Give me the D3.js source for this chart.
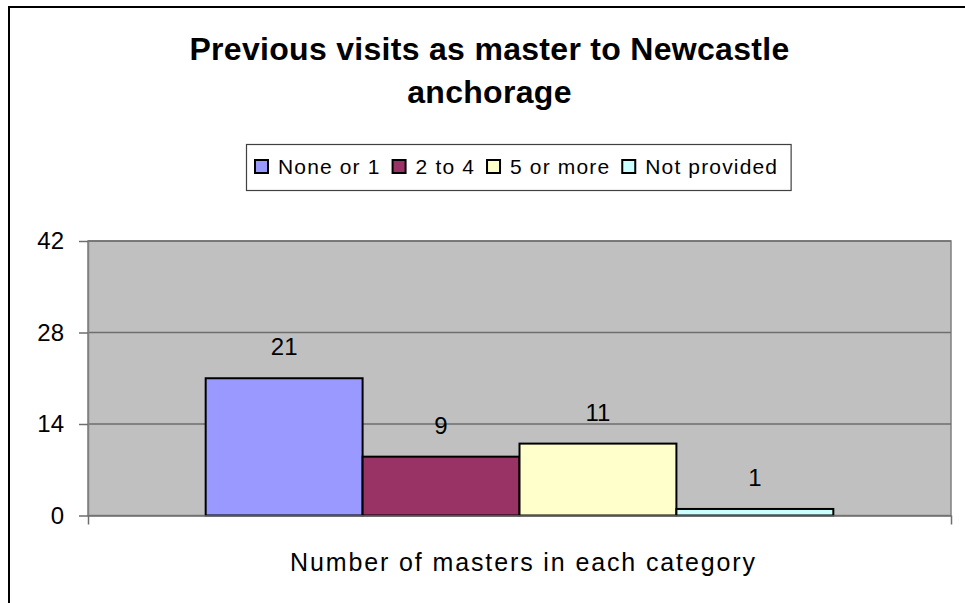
<!DOCTYPE html>
<html>
<head>
<meta charset="utf-8">
<script src="https://cdn.jsdelivr.net/npm/d3@7"></script>
<style>
  body { margin: 0; background: #fff; }
  svg { display: block; font-family: "Liberation Sans", Arial, sans-serif; }
  .tick text { font-size: 24px; fill: #000; }
</style>
</head>
<body>
<div id="chart"></div>
<script>
const categories = ["None or 1", "2 to 4", "5 or more", "Not provided"];
const counts = [21, 9, 11, 1];
const colors = ["#9999ff", "#993366", "#ffffcc", "#ccffff"];
const yTicks = [0, 14, 28, 42];
const titleLines = ["Previous visits as master to Newcastle", "anchorage"];
const xTitle = "Number of masters in each category";

const width = 965, height = 603;
const plot = { left: 88, right: 951, top: 241, bottom: 515.5 };

const svg = d3.select("#chart")
    .append("svg")
    .attr("width", width)
    .attr("height", height);

// chart frame (cut off at right and bottom like the picture)
svg.append("rect")
    .attr("x", 9).attr("y", 7)
    .attr("width", 980).attr("height", 620)
    .attr("fill", "#fff")
    .attr("stroke", "#000")
    .attr("stroke-width", 2);

// title
svg.append("text")
    .attr("text-anchor", "middle")
    .attr("font-size", 32)
    .attr("font-weight", "bold")
    .attr("letter-spacing", 0.3)
    .selectAll("tspan")
    .data(titleLines)
    .join("tspan")
    .attr("x", 489.5)
    .attr("y", (d, i) => 60 + i * 43)
    .text(d => d);

const y = d3.scaleLinear()
    .domain([0, 42])
    .range([plot.bottom, plot.top]);

const x = d3.scaleBand()
    .domain(categories)
    .range([plot.left, plot.right])
    .paddingInner(0)
    .paddingOuter(0.75);

// plot area
svg.append("rect")
    .attr("x", plot.left).attr("y", plot.top)
    .attr("width", plot.right - plot.left)
    .attr("height", plot.bottom - plot.top)
    .attr("fill", "#c0c0c0")
    .attr("stroke", "#808080")
    .attr("stroke-width", 1.5);

// gridlines
svg.append("g")
    .selectAll("line")
    .data(yTicks.filter(d => d > 0))
    .join("line")
    .attr("x1", plot.left).attr("x2", plot.right)
    .attr("y1", d => y(d)).attr("y2", d => y(d))
    .attr("stroke", "#6e6e6e")
    .attr("stroke-width", 1.5);

// bars
svg.append("g")
    .selectAll("rect")
    .data(counts)
    .join("rect")
    .attr("x", (d, i) => x(categories[i]))
    .attr("y", d => y(d))
    .attr("width", x.bandwidth())
    .attr("height", d => y(0) - y(d))
    .attr("fill", (d, i) => colors[i])
    .attr("stroke", "#000")
    .attr("stroke-width", 2);

// value labels
svg.append("g")
    .selectAll("text")
    .data(counts)
    .join("text")
    .attr("x", (d, i) => x(categories[i]) + x.bandwidth() / 2)
    .attr("y", d => y(d) - 23)
    .attr("text-anchor", "middle")
    .attr("font-size", 24)
    .text(d => d);

// y axis
const leftAxis = d3.axisLeft(y)
    .tickValues(yTicks)
    .tickSize(9)
    .tickSizeOuter(0)
    .tickPadding(15);
const gy = svg.append("g")
    .attr("transform", `translate(${plot.left}, 0)`)
    .call(leftAxis);
gy.selectAll("line").attr("stroke", "#6e6e6e").attr("stroke-width", 1.5);
gy.select(".domain").attr("stroke", "#808080").attr("stroke-width", 1.5);
gy.selectAll("text").attr("font-family", "Liberation Sans, Arial, sans-serif");

// x axis: one category, tick marks at both ends
const xEnds = d3.scaleLinear().domain([0, 1]).range([plot.left, plot.right]);
const gx = svg.append("g")
    .attr("transform", `translate(0, ${plot.bottom})`)
    .call(d3.axisBottom(xEnds).tickValues([0, 1]).tickFormat("").tickSize(9).tickSizeOuter(0));
gx.selectAll("line").attr("stroke", "#6e6e6e").attr("stroke-width", 1.5);
gx.select(".domain").attr("stroke", "#6e6e6e").attr("stroke-width", 1.5);

// x axis title
svg.append("text")
    .attr("x", 522.5)
    .attr("y", 571)
    .attr("text-anchor", "middle")
    .attr("font-size", 25)
    .attr("textLength", 465)
    .attr("lengthAdjust", "spacing")
    .text(xTitle);

// legend
const legend = svg.append("g");
const legendBox = legend.append("rect")
    .attr("fill", "#fff")
    .attr("stroke", "#404040")
    .attr("stroke-width", 1.2);

let cursor = 255;
categories.forEach((c, i) => {
    legend.append("rect")
        .attr("x", cursor).attr("y", 160)
        .attr("width", 13).attr("height", 13)
        .attr("fill", colors[i])
        .attr("stroke", "#000")
        .attr("stroke-width", 2);
    const t = legend.append("text")
        .attr("x", cursor + 23)
        .attr("y", 174)
        .attr("font-size", 21)
        .attr("letter-spacing", 1.15)
        .text(c);
    cursor += 23 + t.node().getComputedTextLength() + 12;
});
legendBox
    .attr("x", 246.5).attr("y", 144.5)
    .attr("width", cursor - 12 + 13 - 246.5)
    .attr("height", 46);
</script>
</body>
</html>
